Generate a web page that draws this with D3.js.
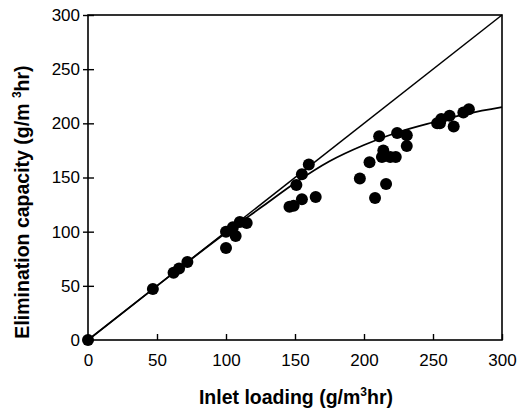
<!DOCTYPE html>
<html>
<head>
<meta charset="utf-8">
<script src="https://cdn.jsdelivr.net/npm/d3@7"></script>
<style>
  body { margin: 0; background: #fff; }
  .tickLbl { font-family: "Liberation Sans", Arial, sans-serif; font-size: 17px; fill: #000; }
  .axTitle { font-family: "Liberation Sans", Arial, sans-serif; font-size: 19.5px; font-weight: bold; fill: #000; }
</style>
</head>
<body>
<svg id="chart" width="517" height="412"></svg>
<script>
var inletLoading = [0, 47, 62, 66, 72, 100, 100, 105, 107, 110, 115,
                    146, 149, 151, 155, 155, 160, 165,
                    197, 204, 208, 211, 213, 214, 219, 216, 223, 224, 231, 231,
                    253, 255, 256, 262, 265, 272, 276];
var elimCapacity = [0, 47, 62, 66, 72, 100, 85, 104, 96, 109, 108,
                    123, 124, 143, 130, 153, 162, 132,
                    149, 164, 131, 188, 169, 175, 169, 144, 169, 191, 189, 179,
                    200, 200, 204, 207, 197, 210, 213];

// fitted curve
var curveX = [0, 50, 100, 125, 150, 175, 200, 225, 250, 275, 300];
var curveY = [0, 50, 99, 122, 145, 165, 180, 192, 201, 209, 215];

var tickVals = [0, 50, 100, 150, 200, 250, 300];

var plotL = 88, plotR = 502, plotT = 15, plotB = 340;

var svg = d3.select("#chart");

var x = d3.scaleLinear().domain([0, 300]).range([plotL, plotR]);
var y = d3.scaleLinear().domain([0, 300]).range([plotB, plotT]);

// frame
svg.append("rect")
  .attr("x", plotL).attr("y", plotT)
  .attr("width", plotR - plotL).attr("height", plotB - plotT)
  .attr("fill", "none").attr("stroke", "#000").attr("stroke-width", 1.6);

// bottom axis: ticks point inward
var xAxis = svg.append("g")
  .attr("transform", "translate(0," + plotB + ")")
  .call(d3.axisBottom(x).tickValues(tickVals).tickSizeInner(-6).tickSizeOuter(0).tickPadding(16));
xAxis.select(".domain").remove();
xAxis.selectAll("line").attr("stroke-width", 1.4);
xAxis.selectAll("text").attr("class", "tickLbl").attr("font-size", null).attr("font-family", null)
  .attr("y", 26).attr("dy", "0");

// left axis: ticks cross the line
var yAxis = svg.append("g")
  .attr("transform", "translate(" + plotL + ",0)")
  .call(d3.axisLeft(y).tickValues(tickVals).tickSizeInner(5).tickSizeOuter(0).tickPadding(3));
yAxis.select(".domain").remove();
yAxis.selectAll("line").attr("x2", -5).attr("x1", 6).attr("stroke-width", 1.4);
yAxis.selectAll("text").attr("class", "tickLbl").attr("font-size", null).attr("font-family", null)
  .attr("x", -8);

// 1:1 line (100% removal)
svg.append("line")
  .attr("x1", x(0)).attr("y1", y(0))
  .attr("x2", x(300)).attr("y2", y(300))
  .attr("stroke", "#000").attr("stroke-width", 1.5);

// fitted curve
var curvePts = curveX.map(function(d, i) { return [d, curveY[i]]; });
svg.append("path")
  .datum(curvePts)
  .attr("d", d3.line().x(function(d) { return x(d[0]); }).y(function(d) { return y(d[1]); })
    .curve(d3.curveMonotoneX))
  .attr("fill", "none").attr("stroke", "#000").attr("stroke-width", 1.8);

// data points
svg.append("g").selectAll("circle")
  .data(inletLoading)
  .enter().append("circle")
  .attr("cx", function(d) { return x(d); })
  .attr("cy", function(d, i) { return y(elimCapacity[i]); })
  .attr("r", 6)
  .attr("fill", "#000");

// axis titles
var xt = svg.append("text").attr("class", "axTitle")
  .attr("x", 296).attr("y", 404).attr("text-anchor", "middle");
xt.append("tspan").text("Inlet loading (g/m");
xt.append("tspan").text("3").attr("font-size", "12px").attr("dy", -8);
xt.append("tspan").text("hr)").attr("dy", 8);

var yt = svg.append("text").attr("class", "axTitle")
  .attr("transform", "translate(29,202) rotate(-90)").attr("text-anchor", "middle");
yt.append("tspan").text("Elimination capacity (g/m ");
yt.append("tspan").text("3").attr("font-size", "12px").attr("dy", -8);
yt.append("tspan").text("hr)").attr("dy", 8);
</script>
</body>
</html>
